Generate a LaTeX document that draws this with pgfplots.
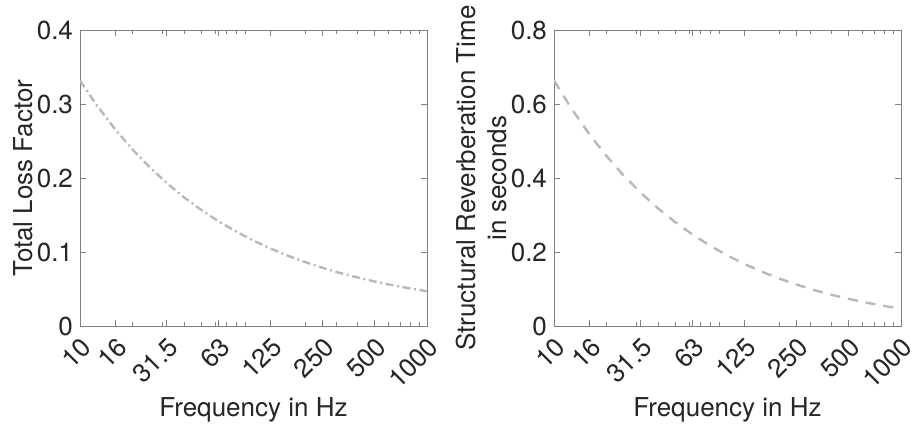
\documentclass[border=0pt]{standalone}
\usepackage{fontspec}
\setmainfont{TeX Gyre Heros}
\usepackage{pgfplots}
\usepackage{pgfplotstable}
\pgfplotsset{compat=1.18}
\definecolor{axc}{gray}{0.15}
\definecolor{framec}{gray}{0.5}
\definecolor{linec}{gray}{0.72}

\pgfplotstableread{
f eta T
10 0.3316 0.6634
12.5 0.2982 0.5902
16 0.2654 0.5181
20 0.2390 0.4603
25 0.2154 0.4085
31.5 0.1936 0.3608
40 0.1735 0.3170
50 0.1568 0.2806
63 0.1414 0.2470
80 0.1272 0.2162
100 0.1154 0.1906
125 0.1048 0.1679
160 0.0945 0.1455
200 0.0861 0.1278
250 0.0786 0.1120
315 0.0717 0.0974
400 0.0654 0.0841
500 0.0601 0.0732
630 0.0552 0.0633
800 0.0508 0.0541
1000 0.0470 0.0468
}\datatable

\begin{document}
\begin{tikzpicture}
\path[use as bounding box] (0,0) rectangle (457.5pt,212pt);
\begin{axis}[at={(40pt,49pt)}, anchor=south west,
  scale only axis, width=173.5pt, height=148pt,
  xmode=log, xmin=10, xmax=1000, ymin=0,
  xtick={10,16,31.5,63,125,250,500,1000},
  xticklabels={10,16,31.5,63,125,250,500,1000},
  minor xtick={20,30,40,50,60,70,80,90,200,300,400,600,700,800,900},
  tick align=inside, major tick length=3pt, minor tick length=1.8pt,
  axis line style={draw=framec, line width=0.5pt},
  tick style={draw=framec, line width=0.5pt},
  tick label style={font=\fontsize{13}{15.6}\selectfont, text=axc},
  label style={font=\fontsize{13}{15.6}\selectfont, text=axc},
  xticklabel style={rotate=45, anchor=north east},
  /pgf/number format/assume math mode=true,
  xlabel={Frequency in Hz},
  xlabel style={yshift=4.5pt},
  ymax=0.4, ytick={0,0.1,0.2,0.3,0.4},
  ylabel={Total Loss Factor},
  ylabel style={at={(axis description cs:-0.164,0.5)}, anchor=center}]
\addplot[linec, line width=1.2pt, dash pattern=on 4pt off 1.8pt on 1pt off 1.8pt] table[x=f, y=eta] {\datatable};
\end{axis}
\begin{axis}[at={(277pt,49pt)}, anchor=south west,
  scale only axis, width=173.5pt, height=148pt,
  xmode=log, xmin=10, xmax=1000, ymin=0,
  xtick={10,16,31.5,63,125,250,500,1000},
  xticklabels={10,16,31.5,63,125,250,500,1000},
  minor xtick={20,30,40,50,60,70,80,90,200,300,400,600,700,800,900},
  tick align=inside, major tick length=3pt, minor tick length=1.8pt,
  axis line style={draw=framec, line width=0.5pt},
  tick style={draw=framec, line width=0.5pt},
  tick label style={font=\fontsize{13}{15.6}\selectfont, text=axc},
  label style={font=\fontsize{13}{15.6}\selectfont, text=axc},
  xticklabel style={rotate=45, anchor=north east},
  /pgf/number format/assume math mode=true,
  xlabel={Frequency in Hz},
  xlabel style={yshift=4.5pt},
  ymax=0.8, ytick={0,0.2,0.4,0.6,0.8},
  ylabel={Structural Reverberation Time\\in seconds},
  ylabel style={align=center, at={(axis description cs:-0.21,0.5)}, anchor=center}]
\addplot[linec, line width=1.2pt, dash pattern=on 5pt off 4pt] table[x=f, y=T] {\datatable};
\end{axis}
\end{tikzpicture}
\end{document}
